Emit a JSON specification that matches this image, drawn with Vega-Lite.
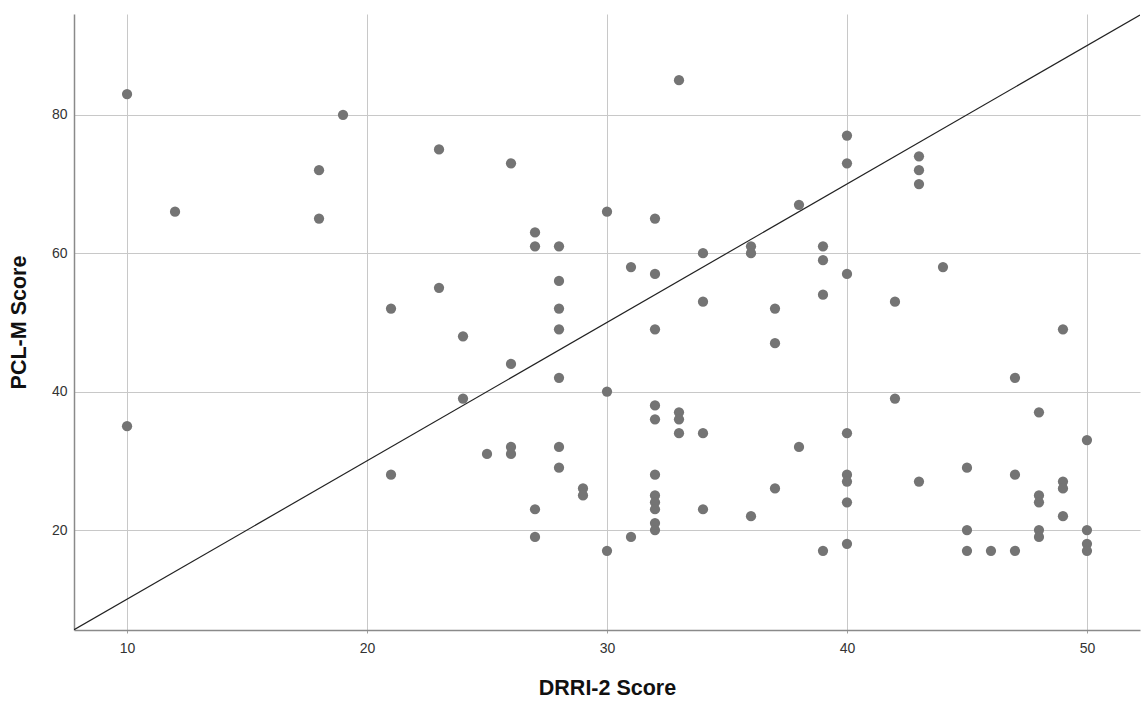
{
  "$schema": "https://vega.github.io/schema/vega-lite/v6.json",
  "width": 1066,
  "height": 616,
  "autosize": {"type": "none"},
  "padding": {"left": 74, "top": 14, "right": 2, "bottom": 72},
  "background": "white",
  "config": {
    "view": {"stroke": null},
    "font": "Liberation Sans",
    "axis": {
      "gridColor": "#c8c8c8",
      "gridWidth": 1,
      "domainColor": "#8a8a8a",
      "domainWidth": 1.5,
      "tickColor": "#a0a0a0",
      "labelColor": "#333333",
      "labelFont": "Liberation Sans",
      "labelFontSize": 14,
      "titleFont": "Liberation Sans",
      "titleFontSize": 21.5,
      "titleFontWeight": "bold",
      "titleColor": "#111111"
    }
  },
  "layer": [
    {
      "data": {
        "values": [
          {"x": 10, "y": 83}, {"x": 10, "y": 35}, {"x": 12, "y": 66}, {"x": 18, "y": 72}, {"x": 18, "y": 65},
          {"x": 19, "y": 80}, {"x": 21, "y": 52}, {"x": 21, "y": 28}, {"x": 23, "y": 75}, {"x": 23, "y": 55},
          {"x": 24, "y": 48}, {"x": 24, "y": 39}, {"x": 25, "y": 31}, {"x": 26, "y": 73}, {"x": 26, "y": 44},
          {"x": 26, "y": 32}, {"x": 26, "y": 31}, {"x": 27, "y": 63}, {"x": 27, "y": 61}, {"x": 27, "y": 23},
          {"x": 27, "y": 19}, {"x": 28, "y": 61}, {"x": 28, "y": 56}, {"x": 28, "y": 52}, {"x": 28, "y": 49},
          {"x": 28, "y": 42}, {"x": 28, "y": 32}, {"x": 28, "y": 29}, {"x": 29, "y": 26}, {"x": 29, "y": 25},
          {"x": 30, "y": 66}, {"x": 30, "y": 40}, {"x": 30, "y": 17}, {"x": 31, "y": 58}, {"x": 31, "y": 19},
          {"x": 32, "y": 65}, {"x": 32, "y": 57}, {"x": 32, "y": 49}, {"x": 32, "y": 38}, {"x": 32, "y": 36},
          {"x": 32, "y": 28}, {"x": 32, "y": 25}, {"x": 32, "y": 24}, {"x": 32, "y": 23}, {"x": 32, "y": 21},
          {"x": 32, "y": 20}, {"x": 33, "y": 85}, {"x": 33, "y": 37}, {"x": 33, "y": 36}, {"x": 33, "y": 34},
          {"x": 34, "y": 60}, {"x": 34, "y": 53}, {"x": 34, "y": 34}, {"x": 34, "y": 23}, {"x": 36, "y": 61},
          {"x": 36, "y": 60}, {"x": 36, "y": 22}, {"x": 37, "y": 52}, {"x": 37, "y": 47}, {"x": 37, "y": 26},
          {"x": 38, "y": 67}, {"x": 38, "y": 32}, {"x": 39, "y": 61}, {"x": 39, "y": 59}, {"x": 39, "y": 54},
          {"x": 39, "y": 17}, {"x": 40, "y": 77}, {"x": 40, "y": 73}, {"x": 40, "y": 57}, {"x": 40, "y": 34},
          {"x": 40, "y": 28}, {"x": 40, "y": 27}, {"x": 40, "y": 24}, {"x": 40, "y": 18}, {"x": 42, "y": 53},
          {"x": 42, "y": 39}, {"x": 43, "y": 74}, {"x": 43, "y": 72}, {"x": 43, "y": 70}, {"x": 43, "y": 27},
          {"x": 44, "y": 58}, {"x": 45, "y": 29}, {"x": 45, "y": 20}, {"x": 45, "y": 17}, {"x": 46, "y": 17},
          {"x": 47, "y": 42}, {"x": 47, "y": 28}, {"x": 47, "y": 17}, {"x": 48, "y": 37}, {"x": 48, "y": 25},
          {"x": 48, "y": 24}, {"x": 48, "y": 20}, {"x": 48, "y": 19}, {"x": 49, "y": 49}, {"x": 49, "y": 27},
          {"x": 49, "y": 26}, {"x": 49, "y": 22}, {"x": 50, "y": 33}, {"x": 50, "y": 20}, {"x": 50, "y": 18},
          {"x": 50, "y": 17}
        ]
      },
      "mark": {"type": "point", "filled": true, "size": 105, "color": "#747474", "opacity": 1},
      "encoding": {
        "x": {
          "field": "x", "type": "quantitative",
          "scale": {"domain": [7.79, 52.21], "nice": false, "zero": false},
          "axis": {
            "title": "DRRI-2 Score",
            "values": [10, 20, 30, 40, 50],
            "grid": true,
            "tickSize": 3,
            "labelPadding": 8,
            "titlePadding": 22
          }
        },
        "y": {
          "field": "y", "type": "quantitative",
          "scale": {"domain": [5.55, 94.57], "nice": false, "zero": false},
          "axis": {
            "title": "PCL-M Score",
            "values": [20, 40, 60, 80],
            "grid": true,
            "ticks": false,
            "labelPadding": 7,
            "titlePadding": 21
          }
        }
      }
    },
    {
      "data": {"values": [{"x": 7.79, "y": 5.58}, {"x": 52.21, "y": 94.42}]},
      "mark": {"type": "line", "color": "#222222", "strokeWidth": 1.2, "clip": true},
      "encoding": {
        "x": {"field": "x", "type": "quantitative"},
        "y": {"field": "y", "type": "quantitative"}
      }
    }
  ]
}
